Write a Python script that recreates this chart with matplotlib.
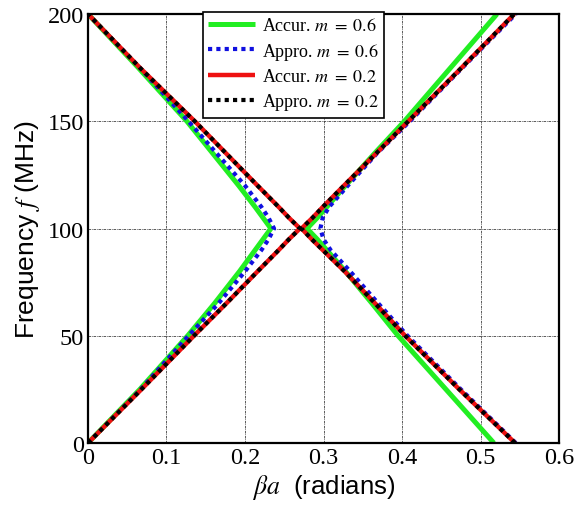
import numpy as np
import matplotlib
matplotlib.use("Agg")
import matplotlib.pyplot as plt

plt.rcParams['mathtext.fontset'] = 'stix'

# frequency samples (MHz)
freq = [0, 25, 50, 65, 80, 90, 95, 100, 105, 110, 120, 135, 150, 175, 200]

# beta*a (radians), lower branch (">" shape) and upper branch ("<" shape)
accur_06_left = [0, 0.066, 0.127, 0.161, 0.193, 0.213, 0.223, 0.233, 0.223, 0.213, 0.192, 0.159, 0.126, 0.064, 0]
accur_06_right = [0.517, 0.456, 0.395, 0.362, 0.328, 0.304, 0.292, 0.279, 0.292, 0.304, 0.328, 0.365, 0.403, 0.462, 0.521]

appro_06_left = [0, 0.067, 0.128, 0.166, 0.200, 0.221, 0.230, 0.237, 0.230, 0.221, 0.200, 0.164, 0.128, 0.066, 0]
appro_06_right = [0.545, 0.475, 0.407, 0.370, 0.334, 0.309, 0.300, 0.296, 0.299, 0.307, 0.331, 0.368, 0.410, 0.477, 0.545]

accur_02_left = [0, 0.068, 0.135, 0.176, 0.216, 0.243, 0.256, 0.270, 0.256, 0.243, 0.216, 0.176, 0.136, 0.066, 0]
accur_02_right = [0.544, 0.473, 0.404, 0.366, 0.327, 0.299, 0.285, 0.272, 0.286, 0.299, 0.326, 0.367, 0.408, 0.476, 0.543]

appro_02_left = [0, 0.068, 0.135, 0.176, 0.216, 0.243, 0.256, 0.270, 0.256, 0.243, 0.216, 0.176, 0.136, 0.066, 0]
appro_02_right = [0.544, 0.473, 0.404, 0.366, 0.327, 0.299, 0.285, 0.272, 0.286, 0.299, 0.326, 0.367, 0.408, 0.476, 0.543]

x_ticks = [0, 0.1, 0.2, 0.3, 0.4, 0.5, 0.6]
y_ticks = [0, 50, 100, 150, 200]

fig = plt.figure(figsize=(5.74, 5.06), dpi=100)
ax = fig.add_axes([0.1533, 0.1225, 0.8206, 0.8478])

dot = (0, (1, 1))
curves = [
    (accur_06_left, accur_06_right, '#22ee22', '-', 3.6, r'Accur. $m\;=\;\mathit{0.6}$'),
    (appro_06_left, appro_06_right, '#1010e0', dot, 3.0, r'Appro. $m\;=\;\mathit{0.6}$'),
    (accur_02_left, accur_02_right, '#ee1111', '-', 3.2, r'Accur. $m\;=\;\mathit{0.2}$'),
    (appro_02_left, appro_02_right, 'black', dot, 3.0, r'Appro. $m\;=\;\mathit{0.2}$'),
]
for left, right, color, ls, lw, label in curves:
    ax.plot(left, freq, color=color, linestyle=ls, linewidth=lw, label=label,
            solid_capstyle='butt', dash_capstyle='butt')
    ax.plot(right, freq, color=color, linestyle=ls, linewidth=lw,
            solid_capstyle='butt', dash_capstyle='butt')

ax.set_xlim(0, 0.6)
ax.set_ylim(0, 200)
ax.set_xticks(x_ticks)
ax.set_yticks(y_ticks)
ax.set_xticklabels(['0', '0.1', '0.2', '0.3', '0.4', '0.5', '0.6'])
ax.set_yticklabels([str(v) for v in y_ticks])
for lab in ax.get_xticklabels() + ax.get_yticklabels():
    lab.set_family('Liberation Serif')
    lab.set_fontsize(17.5)
ax.tick_params(length=0, pad=3)
ax.grid(True, color='0.25', linestyle=(0, (3, 1, 1, 1)), linewidth=0.6)
for sp in ax.spines.values():
    sp.set_linewidth(1.6)

ax.set_ylabel(r'Frequency $\mathit{f}$ (MHz)', fontsize=19, family='Liberation Sans', labelpad=4)
ax.set_xlabel(r'$\beta a$  (radians)', fontsize=18.5, family='Liberation Sans', labelpad=3)

leg = ax.legend(loc='upper left', bbox_to_anchor=(0.244, 1.005), frameon=True,
                fancybox=False, edgecolor='black', framealpha=1,
                prop={'family': 'Liberation Serif', 'size': 13},
                handlelength=2.6, handletextpad=0.35, borderpad=0.3,
                labelspacing=0.35, borderaxespad=0)
leg.get_frame().set_linewidth(1.2)

fig.savefig('out.png', dpi=100)
